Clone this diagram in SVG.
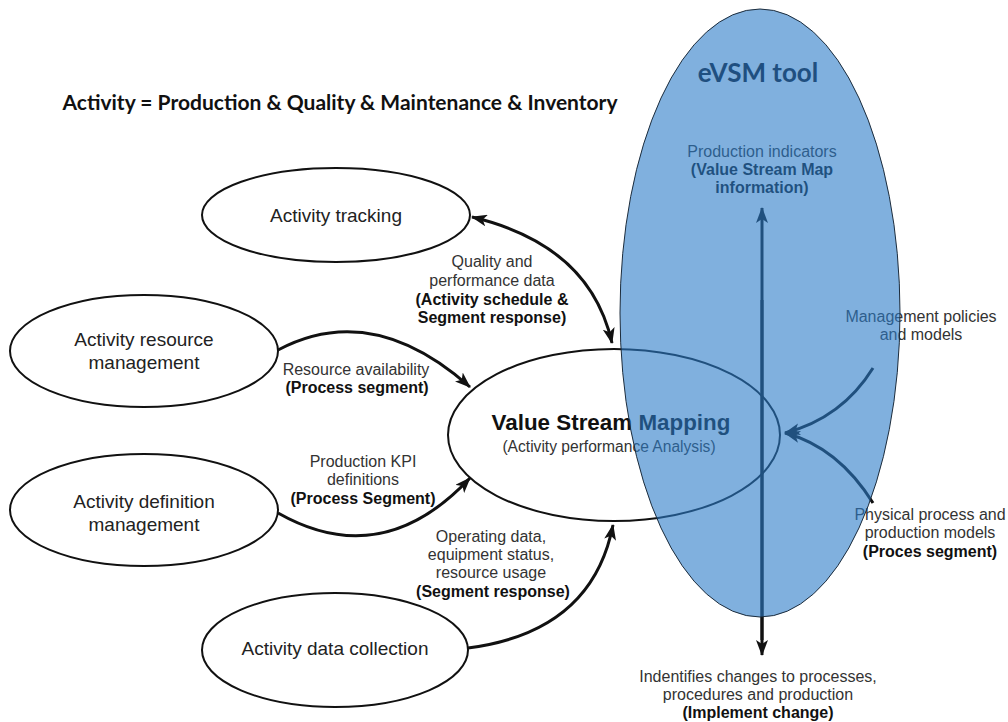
<svg xmlns="http://www.w3.org/2000/svg" width="1008" height="722" viewBox="0 0 1008 722">
<style>
.node{fill:#fff;stroke:#111;stroke-width:2}
.nt{font-family:"Liberation Sans",Arial,sans-serif;font-size:19px;fill:#222;text-anchor:middle}
.lb{font-family:"Liberation Sans",Arial,sans-serif;font-size:16px;fill:#333;text-anchor:middle}
.b{font-weight:bold;fill:#111}
.con{fill:none;stroke:#111;stroke-width:3}
</style>
<defs>
<marker id="ah" viewBox="0 0 16 12" refX="15" refY="6" markerWidth="16" markerHeight="12" markerUnits="userSpaceOnUse" orient="auto-start-reverse">
<path d="M0,0 L16,6 L0,12 L4,6 z" fill="#111"/>
</marker>
</defs>
<rect width="1008" height="722" fill="#fff"/>
<text x="340" y="110" font-family="Lato,'Open Sans',sans-serif" font-weight="bold" font-size="21" fill="#111" text-anchor="middle">Activity = Production &amp; Quality &amp; Maintenance &amp; Inventory</text>

<g id="node-activity-tracking">
<ellipse class="node" cx="336" cy="215" rx="134" ry="47"/>
<text class="nt" x="336" y="222">Activity tracking</text>
</g>
<g id="node-resource-management">
<ellipse class="node" cx="144" cy="351" rx="134" ry="56"/>
<text class="nt" x="144" y="346">Activity resource</text>
<text class="nt" x="144" y="369">management</text>
</g>
<g id="node-definition-management">
<ellipse class="node" cx="144" cy="510" rx="134" ry="56"/>
<text class="nt" x="144" y="508">Activity definition</text>
<text class="nt" x="144" y="531">management</text>
</g>
<g id="node-data-collection">
<ellipse class="node" cx="335" cy="650" rx="133" ry="57"/>
<text class="nt" x="335" y="655">Activity data collection</text>
</g>
<g id="node-vsm">
<ellipse class="node" cx="614" cy="435" rx="166" ry="86"/>
<text x="611" y="430" font-family="'Liberation Sans',Arial,sans-serif" font-weight="bold" font-size="22.4" fill="#111" text-anchor="middle">Value Stream Mapping</text>
<text x="609" y="452" font-family="'Liberation Sans',Arial,sans-serif" font-size="15.6" fill="#333" text-anchor="middle">(Activity performance Analysis)</text>
</g>

<g id="connectors">
<path class="con" d="M472,217 Q590,245 612,343" marker-start="url(#ah)" marker-end="url(#ah)"/>
<path class="con" d="M278,350 Q372,300 470,387" marker-end="url(#ah)"/>
<path class="con" d="M278,513 Q382,572 470,478" marker-end="url(#ah)"/>
<path class="con" d="M468,648 Q592,632 613,525" marker-end="url(#ah)"/>
<path class="con" d="M762,640 L762,208" stroke-width="2.5" marker-end="url(#ah)"/>
<path class="con" d="M762,300 L762,655" stroke-width="2.5" marker-end="url(#ah)"/>
<path class="con" d="M873,368 Q842,418 785,433" marker-end="url(#ah)"/>
<path class="con" d="M873,503 Q838,447 785,433" marker-end="url(#ah)"/>
</g>

<g id="labels">
<text class="lb" x="492" y="267">Quality and</text>
<text class="lb" x="492" y="286">performance data</text>
<text class="lb b" x="492" y="305">(Activity schedule &amp;</text>
<text class="lb b" x="492" y="323">Segment response)</text>
<text class="lb" x="356" y="375">Resource availability</text>
<text class="lb b" x="357" y="393">(Process segment)</text>
<text class="lb" x="363" y="467">Production KPI</text>
<text class="lb" x="363" y="485">definitions</text>
<text class="lb b" x="363" y="504">(Process Segment)</text>
<text class="lb" x="491" y="542">Operating data,</text>
<text class="lb" x="491" y="560">equipment status,</text>
<text class="lb" x="491" y="578">resource usage</text>
<text class="lb b" x="493" y="597">(Segment response)</text>
<text class="lb" x="762" y="157">Production indicators</text>
<text class="lb b" x="762" y="175">(Value Stream Map</text>
<text class="lb b" x="762" y="193">information)</text>
<text class="lb" x="921" y="322">Management policies</text>
<text class="lb" x="921" y="340">and models</text>
<text class="lb" x="930" y="520">Physical process and</text>
<text class="lb" x="930" y="538">production models</text>
<text class="lb b" x="930" y="557">(Proces segment)</text>
<text class="lb" x="758" y="682">Indentifies changes to processes,</text>
<text class="lb" x="758" y="700">procedures and production</text>
<text class="lb b" x="758" y="718">(Implement change)</text>
</g>

<g id="node-evsm-tool">
<ellipse cx="760" cy="313" rx="140" ry="304" fill="#2b7bc8" fill-opacity="0.6" stroke="#1c2c3c" stroke-width="1"/>
<text x="758" y="82" font-family="Lato,'Open Sans',sans-serif" font-weight="bold" font-size="26" fill="#1f4f80" text-anchor="middle">eVSM tool</text>
</g>
</svg>
